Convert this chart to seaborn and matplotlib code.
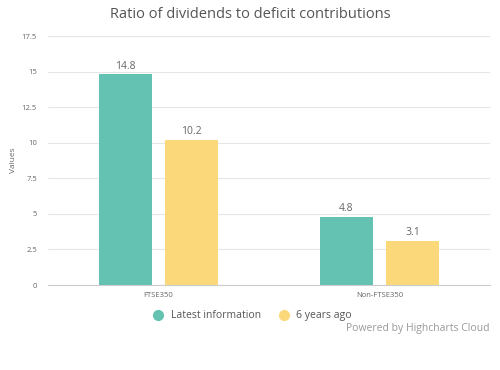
import matplotlib
matplotlib.use("Agg")
import matplotlib.pyplot as plt
import seaborn as sns
import pandas as pd
from matplotlib.lines import Line2D

categories = ["FTSE350", "Non-FTSE350"]
series = ["Latest information", "6 years ago"]
latest = [14.8, 4.8]
six_years = [10.2, 3.1]
yticks = [0, 2.5, 5, 7.5, 10, 12.5, 15, 17.5]
colors = ["#63c2b1", "#fbd97a"]

df = pd.DataFrame({
    "Category": categories * 2,
    "Series": [series[0]] * 2 + [series[1]] * 2,
    "Value": latest + six_years,
})

sns.set_style("white")
plt.rcParams["font.family"] = ["Open Sans", "DejaVu Sans"]

fig = plt.figure(figsize=(5, 3.7), dpi=100)
ax = fig.add_axes([0.096, 0.2297, 0.884, 0.673])

sns.barplot(data=df, x="Category", y="Value", hue="Series", hue_order=series,
            palette=colors, width=0.6, gap=0.2, ax=ax, legend=False,
            saturation=1, edgecolor="none")

for cont in ax.containers:
    ax.bar_label(cont, fmt="%.1f", padding=2, fontsize=7.5, color="#666666")

ax.set_xlim(-0.5, 1.5)
ax.set_ylim(0, 17.5)
ax.set_yticks(yticks)
ax.set_yticklabels([f"{t:g}" for t in yticks], fontsize=5.5, color="#666666")
ax.tick_params(axis="y", length=0, pad=8)
ax.tick_params(axis="x", length=0, pad=5, labelsize=5.5, labelcolor="#666666")
ax.set_xticks([-0.5, 0.5, 1.5], minor=True)
ax.tick_params(axis="x", which="minor", length=5, color="#cccccc", width=0.8)
ax.grid(axis="y", color="#e6e6e6", linewidth=0.8)
ax.set_axisbelow(True)
for s in ["top", "right", "left"]:
    ax.spines[s].set_visible(False)
ax.spines["bottom"].set_color("#cccccc")
ax.spines["bottom"].set_linewidth(0.8)
ax.set_xlabel("")
ax.set_ylabel("Values", fontsize=6, color="#666666")
ax.yaxis.set_label_coords(-0.07, 0.5)

fig.text(0.5, 0.962, "Ratio of dividends to deficit contributions", ha="center",
         va="center", fontsize=10.5, color="#555555")

handles = [Line2D([], [], marker="o", linestyle="", markersize=7,
                  markerfacecolor=c, markeredgecolor=c) for c in colors]
fig.legend(handles, series, loc="center", bbox_to_anchor=(0.5, 0.146), ncol=2,
           frameon=False, fontsize=7.5, labelcolor="#555555", handletextpad=0.2,
           columnspacing=1.2)

fig.text(0.98, 0.113, "Powered by Highcharts Cloud", ha="right", va="center",
         fontsize=7.5, color="#999999")

fig.savefig("out.png", dpi=100)
